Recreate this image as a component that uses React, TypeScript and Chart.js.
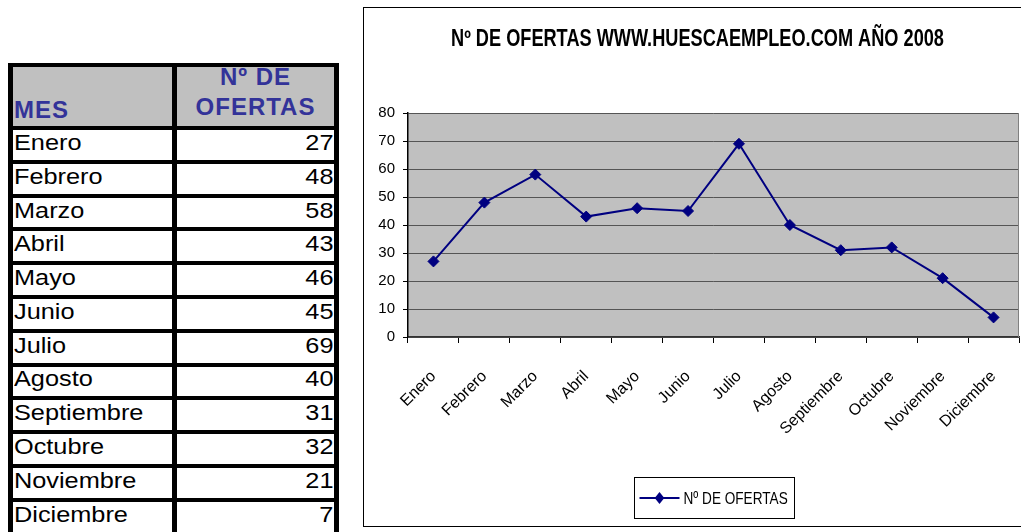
import React, { useEffect, useRef } from 'react';
import { Chart, registerables } from 'chart.js';

Chart.register(...registerables);

const MONTHS = ['Enero', 'Febrero', 'Marzo', 'Abril', 'Mayo', 'Junio', 'Julio', 'Agosto', 'Septiembre', 'Octubre', 'Noviembre', 'Diciembre'];
const OFERTAS = [27, 48, 58, 43, 46, 45, 69, 40, 31, 32, 21, 7];
const Y_MIN = 0;
const Y_MAX = 80;
const Y_STEP = 10;
const SERIES_LABEL = 'Nº DE OFERTAS';
const CHART_TITLE = 'Nº DE OFERTAS WWW.HUESCAEMPLEO.COM AÑO 2008';
const TABLE_HEAD_MONTH = 'MES';
const TABLE_HEAD_VALUE = ['Nº DE', 'OFERTAS'];

const SANS = '"Liberation Sans", Arial, sans-serif';
const NAVY = '#000080';

const plotBackground = {
  id: 'plotBackground',
  beforeDraw(chart: any) {
    const { ctx, chartArea: a } = chart;
    ctx.save();
    ctx.fillStyle = '#c0c0c0';
    ctx.fillRect(a.left, a.top, a.right - a.left, a.bottom - a.top);
    ctx.restore();
  },
  beforeDatasetsDraw(chart: any) {
    const { ctx, chartArea: a } = chart;
    ctx.save();
    ctx.strokeStyle = '#808080';
    ctx.lineWidth = 1;
    ctx.beginPath();
    ctx.moveTo(a.right - 0.5, a.top);
    ctx.lineTo(a.right - 0.5, a.bottom);
    ctx.stroke();
    ctx.restore();
  },
};

// Condensed bold title (Arial Narrow look) drawn with a horizontal squeeze.
const narrowTitle = {
  id: 'narrowTitle',
  afterDraw(chart: any, _args: any, opts: any) {
    const { ctx } = chart;
    ctx.save();
    ctx.font = `bold ${opts.size}px ${SANS}`;
    ctx.fillStyle = '#000';
    ctx.textAlign = 'center';
    ctx.textBaseline = 'alphabetic';
    ctx.translate(chart.width / 2 + opts.shiftX, opts.baseline);
    ctx.scale(opts.squeeze, 1);
    ctx.fillText(opts.text, 0, 0);
    ctx.restore();
  },
};

const boxedLegend = {
  id: 'boxedLegend',
  afterDraw(chart: any, _args: any, opts: any) {
    const ds = chart.data.datasets[0];
    const { ctx, chartArea: a } = chart;
    ctx.save();
    ctx.font = `${opts.size}px ${SANS}`;
    const label = String(ds.label);
    const tw = ctx.measureText(label).width * opts.squeeze;
    const symW = 40;
    const gap = 4;
    const padL = 5;
    const padR = 7;
    const w = Math.round(padL + symW + gap + tw + padR);
    const h = 41;
    const cx = (a.left + a.right) / 2;
    const x0 = Math.round(cx - w / 2) + 0.5;
    const y0 = chart.height - 49 + 0.5;
    ctx.fillStyle = '#fff';
    ctx.fillRect(x0, y0, w, h);
    ctx.strokeStyle = '#000';
    ctx.lineWidth = 1;
    ctx.strokeRect(x0, y0, w, h);
    const my = y0 + h / 2;
    ctx.strokeStyle = ds.borderColor;
    ctx.lineWidth = 2;
    ctx.beginPath();
    ctx.moveTo(x0 + padL, my);
    ctx.lineTo(x0 + padL + symW, my);
    ctx.stroke();
    const dx = x0 + padL + symW / 2;
    const r = 6;
    ctx.fillStyle = ds.borderColor;
    ctx.beginPath();
    ctx.moveTo(dx, my - r);
    ctx.lineTo(dx + r * 0.8, my);
    ctx.lineTo(dx, my + r);
    ctx.lineTo(dx - r * 0.8, my);
    ctx.closePath();
    ctx.fill();
    ctx.fillStyle = '#000';
    ctx.textAlign = 'left';
    ctx.textBaseline = 'alphabetic';
    ctx.translate(x0 + padL + symW + gap, my + 6);
    ctx.scale(opts.squeeze, 1);
    ctx.fillText(label, 0, 0);
    ctx.restore();
  },
};

function LineChart() {
  const ref = useRef<HTMLCanvasElement | null>(null);
  useEffect(() => {
    if (!ref.current) return;
    const chart = new Chart(ref.current, {
      type: 'line',
      data: {
        labels: MONTHS,
        datasets: [
          {
            label: SERIES_LABEL,
            data: OFERTAS,
            borderColor: NAVY,
            backgroundColor: NAVY,
            borderWidth: 2,
            pointStyle: 'rectRot',
            pointRadius: 5.5,
            pointBorderWidth: 1,
            tension: 0,
          },
        ],
      },
      options: {
        responsive: false,
        animation: false,
        layout: { autoPadding: false, padding: { left: 0, right: 2, top: 105, bottom: 89 } },
        plugins: {
          legend: { display: false },
          tooltip: { enabled: false },
          title: { display: false },
          narrowTitle: { text: CHART_TITLE, size: 23, squeeze: 0.79, baseline: 38, shiftX: 5 },
          boxedLegend: { size: 17, squeeze: 0.8 },
        },
        scales: {
          x: {
            type: 'category',
            offset: true,
            grid: { offset: true, drawOnChartArea: false, drawTicks: true, tickLength: 6, color: '#000' },
            border: { color: '#333', width: 1.5 },
            ticks: {
              minRotation: 45,
              maxRotation: 45,
              autoSkip: false,
              padding: 24,
              color: '#000',
              font: { family: SANS, size: 16 },
            },
            afterFit: (s: any) => {
              s.height = 100;
              s.paddingLeft = 0;
              s.paddingRight = 0;
            },
          },
          y: {
            min: Y_MIN,
            max: Y_MAX,
            ticks: { stepSize: Y_STEP, padding: 8, color: '#000', font: { family: SANS, size: 15 } },
            grid: { color: '#555', lineWidth: 1, tickLength: 5, tickColor: '#000' },
            border: { color: '#000', width: 1.5 },
            afterFit: (s: any) => {
              s.width = 44;
              s.paddingTop = 0;
              s.paddingBottom = 0;
            },
          },
        },
      },
      plugins: [plotBackground, narrowTitle, boxedLegend],
    } as any);
    return () => chart.destroy();
  }, []);
  return <canvas ref={ref} width={657} height={518} style={{ display: 'block' }} />;
}

function DataTable() {
  const cellBase: React.CSSProperties = {
    background: '#fff',
    fontFamily: SANS,
    fontSize: 22,
    color: '#000',
    display: 'flex',
    alignItems: 'center',
    overflow: 'hidden',
    whiteSpace: 'nowrap',
    paddingBottom: 4,
    boxSizing: 'border-box',
  };
  const head: React.CSSProperties = {
    background: '#c0c0c0',
    color: '#333399',
    fontFamily: SANS,
    fontWeight: 'bold',
    fontSize: 24,
    letterSpacing: 1,
    overflow: 'hidden',
    display: 'flex',
    alignItems: 'flex-end',
    boxSizing: 'border-box',
  };
  return (
    <div
      style={{
        position: 'absolute',
        left: 8,
        top: 63,
        display: 'grid',
        gridTemplateColumns: '159px 157px',
        gridAutoRows: '29.8px',
        gridTemplateRows: '59px',
        gap: '4px 5px',
        padding: '4px 5px',
        background: '#000',
      }}
    >
      <div style={{ ...head, paddingLeft: 1, lineHeight: '28px', paddingBottom: 2 }}>{TABLE_HEAD_MONTH}</div>
      <div style={{ ...head, justifyContent: 'center', textAlign: 'center', lineHeight: '30px', paddingBottom: 4 }}>
        <div>
          {TABLE_HEAD_VALUE.map((t) => (
            <div key={t}>{t}</div>
          ))}
        </div>
      </div>
      {MONTHS.map((m, i) => (
        <React.Fragment key={m}>
          <div style={{ ...cellBase, paddingLeft: 1 }}>
            <span style={{ display: 'inline-block', transform: 'scaleX(1.15)', transformOrigin: 'left center' }}>{m}</span>
          </div>
          <div style={{ ...cellBase, justifyContent: 'flex-end', paddingRight: 1 }}>
            <span style={{ display: 'inline-block', transform: 'scaleX(1.15)', transformOrigin: 'right center' }}>{OFERTAS[i]}</span>
          </div>
        </React.Fragment>
      ))}
    </div>
  );
}

export default function App() {
  return (
    <div style={{ position: 'fixed', left: 0, top: 0, width: 1021, height: 532, overflow: 'hidden', background: '#fff' }}>
      <DataTable />
      <div
        style={{
          position: 'absolute',
          left: 363,
          top: 7,
          width: 658,
          height: 520,
          boxSizing: 'border-box',
          borderTop: '1px solid #000',
          borderLeft: '1px solid #000',
          borderBottom: '1px solid #000',
        }}
      >
        <LineChart />
      </div>
    </div>
  );
}
